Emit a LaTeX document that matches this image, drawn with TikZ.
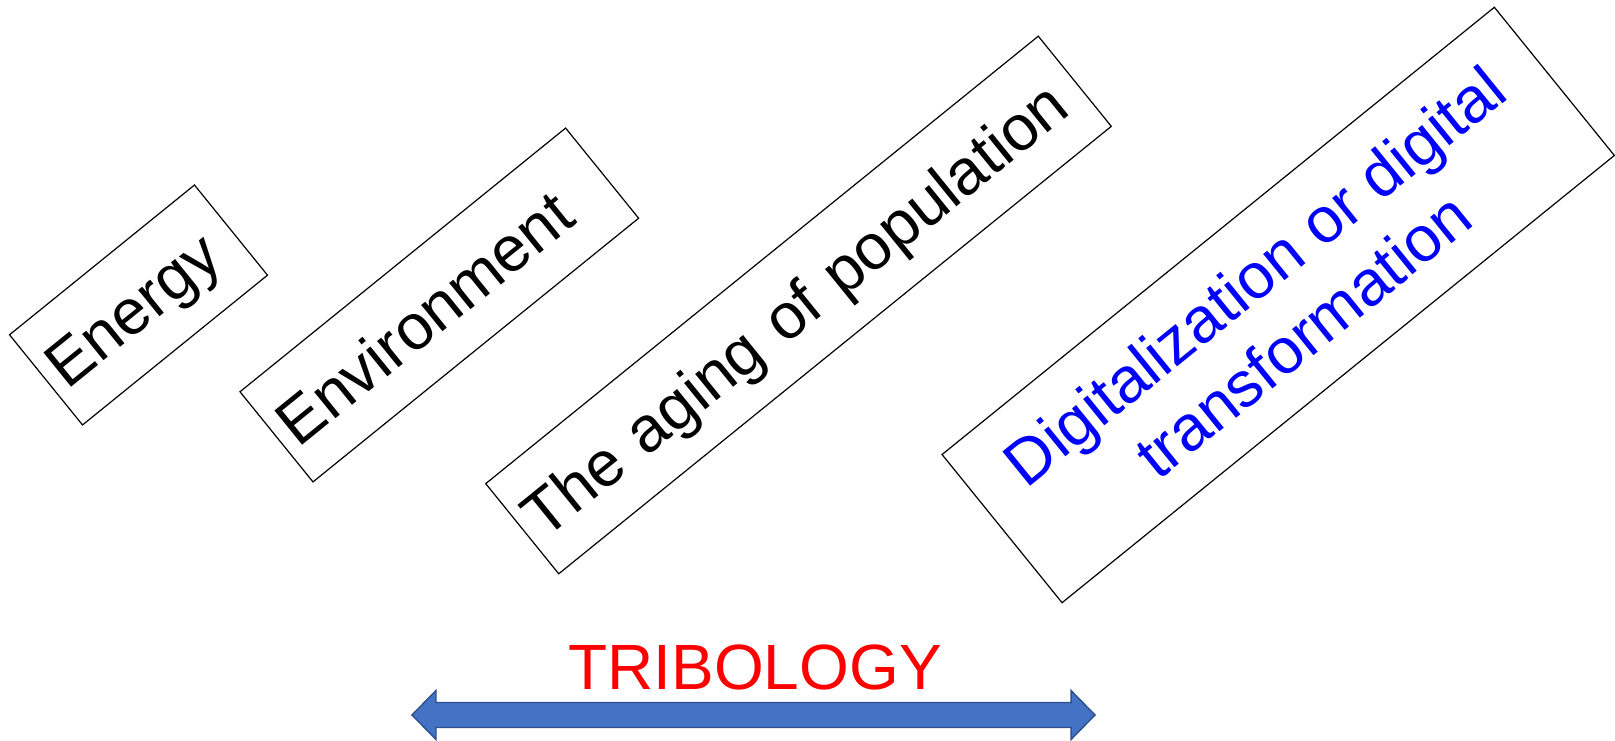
\documentclass[tikz,border=0pt]{standalone}
\usepackage{fontspec}
\setmainfont{Liberation Sans}
\usepackage{tikz}
\usetikzlibrary{positioning,calc}
\definecolor{arrowfill}{HTML}{4472C4}
\definecolor{arrowline}{HTML}{2F528F}
\tikzset{
  trend/.style={draw=black, line width=0.9pt, rotate=39, inner xsep=7.5pt, inner ysep=0pt,
    minimum height=87pt, text depth=0pt, align=left, font=\fontsize{48}{57.6}\selectfont},
  tribarrow/.style={fill=arrowfill, draw=arrowline, line width=1.1pt, line join=miter},
  tribtext/.style={text=red, anchor=base, font=\fontsize{48}{56}\selectfont}
}

\begin{document}
\begin{tikzpicture}[x=0.75pt, y=0.75pt]
    \useasboundingbox (0,0) rectangle (1615,741);

    \node[trend, text width=163.5pt] (energy) at (138.5,436) {Energy};
    \node[trend, text width=299.25pt] (env)   at (439.3,436) {Environment};
    \node[trend, text width=518.25pt] (aging) at (798.5,436) {The aging of population};
    \node[trend, inner xsep=0pt, minimum width=533pt, minimum height=143pt, align=center,
        text=blue] (digit) at (1278.2,436)
        {Digitalization or digital\\transformation};

    \node[tribtext] (trib) at (755,51) {TRIBOLOGY};

    \coordinate (al) at (412,26);
    \coordinate (ar) at (1095,26);
    \draw[tribarrow] (al) -- ++(24,24.5) -- ++(0,-12) -- ($(ar)+(-24,12.5)$) -- ++(0,12)
        -- (ar) -- ++(-24,-24.5) -- ++(0,12) -- ($(al)+(24,-12.5)$) -- ++(0,-12) -- cycle;

\end{tikzpicture}
\end{document}
